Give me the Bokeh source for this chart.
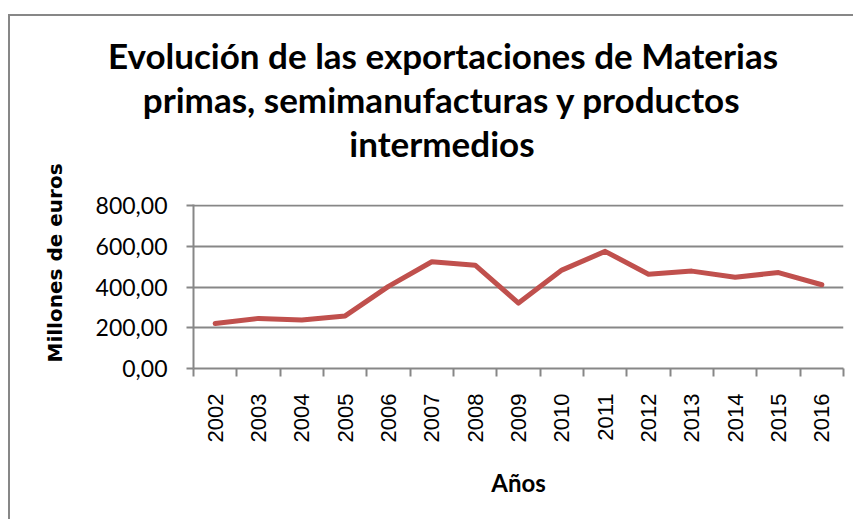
import math
from bokeh.plotting import figure
from bokeh.models import Range1d, FixedTicker, Title
from bokeh.embed import file_html
from bokeh.resources import INLINE

# ---- data ----
years = [2002, 2003, 2004, 2005, 2006, 2007, 2008, 2009, 2010, 2011, 2012, 2013, 2014, 2015, 2016]
exports = [221, 246, 238, 258, 403, 524, 507, 321, 483, 575, 463, 478, 448, 471, 411]
y_ticks = [0, 200, 400, 600, 800]
y_tick_labels = ["0,00", "200,00", "400,00", "600,00", "800,00"]
title_lines = ["Evolución de las exportaciones de Materias",
               "primas, semimanufacturas y productos",
               "intermedios"]
x_title = "Años"
y_title = "Millones de euros"

GRAY = "#878787"
RED = "#C0504D"

p = figure(width=853, height=519, output_backend="svg", toolbar_location=None,
           title_location=None,
           x_range=Range1d(years[0] - 0.5, years[-1] + 0.5),
           y_range=Range1d(y_ticks[0], 805),
           min_border_left=193, min_border_right=10,
           min_border_top=204, min_border_bottom=151)
p.outline_line_color = None
p.background_fill_color = "white"
p.border_fill_alpha = 0
p.styles = {
    "background-color": "white",
    "background-image": "linear-gradient(#878787, #878787), linear-gradient(#878787, #878787)",
    "background-size": "2px 100%, 100% 2px",
    "background-position": "8px 14px, 8px 14px",
    "background-repeat": "no-repeat",
}

p.line(years, exports, line_color=RED, line_width=5, line_join="round", line_cap="round")

# x axis: labels at category centres, tick marks between categories
xt = FixedTicker(ticks=years, minor_ticks=[y - 0.5 for y in years] + [years[-1] + 0.5])
p.xaxis.ticker = xt
p.xaxis.major_label_orientation = math.pi / 2
p.xaxis.major_tick_out = 0
p.xaxis.major_tick_in = 0
p.xaxis.minor_tick_out = 8
p.xaxis.minor_tick_in = 0
p.xaxis.minor_tick_line_color = GRAY
p.xaxis.minor_tick_line_width = 2
p.xaxis.axis_line_color = GRAY
p.xaxis.axis_line_width = 2
p.xaxis.major_label_standoff = 17
p.xaxis.major_label_text_font = "Liberation Sans"
p.xaxis.major_label_text_font_size = "22px"
p.xaxis.major_label_text_color = "black"
p.xaxis.axis_label = x_title
p.xaxis.axis_label_text_font = "Lato"
p.xaxis.axis_label_text_font_style = "bold"
p.xaxis.axis_label_text_font_size = "24px"
p.xaxis.axis_label_text_color = "black"
p.xaxis.axis_label_standoff = 23

p.yaxis.ticker = FixedTicker(ticks=y_ticks, minor_ticks=[])
p.yaxis.major_label_overrides = {t: l for t, l in zip(y_ticks, y_tick_labels)}
p.yaxis.major_tick_out = 7
p.yaxis.major_tick_in = 0
p.yaxis.major_tick_line_color = GRAY
p.yaxis.major_tick_line_width = 2
p.yaxis.minor_tick_line_color = None
p.yaxis.axis_line_color = GRAY
p.yaxis.axis_line_width = 2
p.yaxis.major_label_standoff = 19
p.yaxis.major_label_text_font = "Lato"
p.yaxis.major_label_text_font_size = "23px"
p.yaxis.major_label_text_color = "black"

# y axis title, placed as a rotated side title so it can sit where the reference has it
p.add_layout(Title(text=y_title, align="left", offset=6, standoff=52,
                   text_font="DejaVu Sans", text_font_style="bold",
                   text_font_size="20px", text_color="black"), "left")

p.xgrid.grid_line_color = None
p.ygrid.ticker = FixedTicker(ticks=y_ticks)
p.ygrid.grid_line_color = GRAY
p.ygrid.grid_line_width = 2

# spacer between plot area and title, then title lines from the plot outward
p.add_layout(Title(text=" ", standoff=28, text_font_size="10px"), "above")
for txt, off in zip(reversed(title_lines), [155.8, -50.7, -85.5]):
    p.add_layout(Title(text=txt, align="left", offset=off, standoff=0,
                       text_font="Lato", text_font_style="bold",
                       text_font_size="35px", text_color="black"), "above")

open("out.html", "w").write(file_html(p, INLINE))
